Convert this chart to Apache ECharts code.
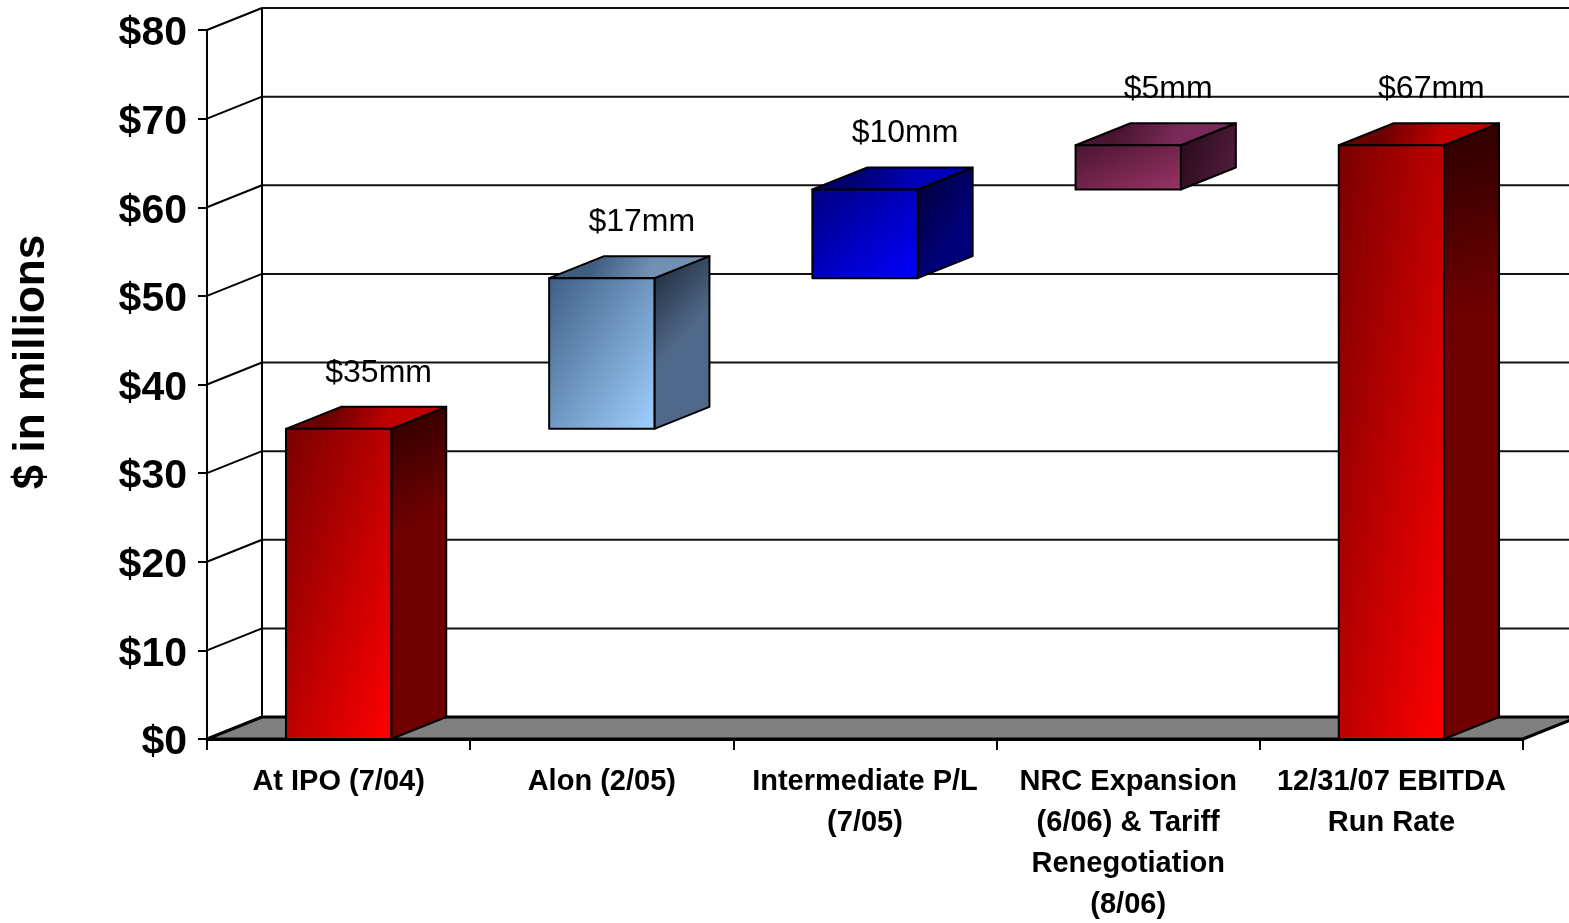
<!DOCTYPE html>
<html>
<head>
<meta charset="utf-8">
<script src="https://cdn.jsdelivr.net/npm/echarts@6/dist/echarts.min.js"></script>
<style>
  html, body { margin: 0; padding: 0; background: #fff; }
  #main { width: 1569px; height: 923px; }
</style>
</head>
<body>
<div id="main"></div>
<script>
// ---- data ----
const categories = [
  'At IPO (7/04)',
  'Alon (2/05)',
  'Intermediate P/L\n(7/05)',
  'NRC Expansion\n(6/06) & Tariff\nRenegotiation\n(8/06)',
  '12/31/07 EBITDA\nRun Rate'
];
const amounts = [35, 17, 10, 5, 67];
const isTotal = [true, false, false, false, true];
const valueLabels = ['$35mm', '$17mm', '$10mm', '$5mm', '$67mm'];
const yTicks = [0, 10, 20, 30, 40, 50, 60, 70, 80];

// ---- style constants ----
const DX = 55, DY = -22;
const FONT = '"Liberation Sans", Arial, Helvetica, sans-serif';
const palettes = [
  { front: ['#780000', '#ff0000'], side: ['#2a0000', '#700000'], top: ['#6a0000', '#c00000'] },
  { front: ['#3f5f85', '#a0d0ff'], side: ['#1a2433', '#50698a'], top: ['#3f5d80', '#7290b3'] },
  { front: ['#000080', '#0000ff'], side: ['#000030', '#000078'], top: ['#000070', '#0000b8'] },
  { front: ['#4a1530', '#9a3366'], side: ['#250818', '#4d1a38'], top: ['#4a1530', '#7a2a58'] },
  { front: ['#780000', '#ff0000'], side: ['#2a0000', '#700000'], top: ['#6a0000', '#c00000'] }
];

// build waterfall segments
const barData = [];
let running = 0;
for (let i = 0; i < amounts.length; i++) {
  let base, top;
  if (isTotal[i]) { base = 0; top = amounts[i]; running = amounts[i]; }
  else { base = running; top = running + amounts[i]; running = top; }
  barData.push([i, base, top]);
}

function grad(c, x1, y1, x2, y2) {
  return new echarts.graphic.LinearGradient(x1, y1, x2, y2, [
    { offset: 0, color: c[0] }, { offset: 1, color: c[1] }
  ]);
}
// gradient in box space (corner-to-corner, iso lines through the other two corners)
function boxGrad(c, x, y, w, h) {
  const k = 2 * w * h / (w * w + h * h);
  return new echarts.graphic.LinearGradient(x, y, x + h * k, y + w * k, [
    { offset: 0, color: c[0] }, { offset: 1, color: c[1] }
  ], true);
}

const chart = echarts.init(document.getElementById('main'), null, { renderer: 'canvas' });

const option = {
  animation: false,
  grid: { left: 207, right: 46, top: 30, bottom: 184, containLabel: false, outerBoundsMode: 'none' },
  graphic: [{
    type: 'text',
    x: 32, y: 362,
    rotation: Math.PI / 2,
    style: {
      text: '$ in millions',
      font: 'bold 44px ' + FONT,
      fill: '#000',
      align: 'center',
      verticalAlign: 'middle'
    }
  }],
  xAxis: {
    type: 'category',
    data: categories,
    boundaryGap: true,
    axisLine: { show: true, lineStyle: { color: '#000', width: 3 } },
    axisTick: { show: true, length: 11, lineStyle: { color: '#000', width: 2 } },
    axisLabel: {
      interval: 0,
      color: '#000',
      fontFamily: FONT,
      fontWeight: 'bold',
      fontSize: 29,
      lineHeight: 41,
      margin: 22
    },
    splitLine: { show: false }
  },
  yAxis: {
    type: 'value',
    min: 0, max: 80, interval: 10,
    axisLine: { show: true, lineStyle: { color: '#000', width: 2 } },
    axisTick: { show: true, length: 9, lineStyle: { color: '#000', width: 2 } },
    axisLabel: {
      formatter: v => '{v|$' + v + '}',
      color: '#000',
      margin: 20,
      rich: {
        v: {
          fontFamily: FONT,
          fontWeight: 'bold',
          fontSize: 41,
          color: '#000',
          padding: [8, 0, 0, 0]
        }
      }
    },
    splitLine: { show: false }
  },
  series: [
    {
      type: 'custom',
      silent: true,
      clip: false,
      z: 1,
      data: [[0, 0]],
      renderItem: function (params, api) {
        const cs = params.coordSys;
        const x0 = cs.x, x1 = cs.x + cs.width;
        const y0 = api.coord([0, 0])[1];
        const children = [];
        yTicks.forEach(function (v) {
          const y = api.coord([0, v])[1];
          children.push({
            type: 'line',
            shape: { x1: x0 + DX, y1: y + DY, x2: x1 + DX, y2: y + DY },
            style: { stroke: '#111', lineWidth: 2 }
          });
          children.push({
            type: 'line',
            shape: { x1: x0, y1: y, x2: x0 + DX, y2: y + DY },
            style: { stroke: '#000', lineWidth: 2 }
          });
        });
        const yTop = api.coord([0, yTicks[yTicks.length - 1]])[1];
        children.push({
          type: 'line',
          shape: { x1: x0 + DX, y1: yTop + DY, x2: x0 + DX, y2: y0 + DY },
          style: { stroke: '#000', lineWidth: 2 }
        });
        children.push({
          type: 'polygon',
          shape: { points: [[x0, y0], [x1, y0], [x1 + DX, y0 + DY], [x0 + DX, y0 + DY]] },
          style: { fill: '#808080', stroke: '#000', lineWidth: 3, lineJoin: 'round' }
        });
        return { type: 'group', children: children };
      }
    },
    {
      type: 'custom',
      silent: true,
      clip: false,
      z: 5,
      data: barData,
      encode: { x: 0, y: [1, 2] },
      renderItem: function (params, api) {
        const i = api.value(0);
        const b = api.value(1), t = api.value(2);
        const pb = api.coord([i, b]);
        const pt = api.coord([i, t]);
        const w = api.size([1, 0])[0] * 0.4;
        const xl = pb[0] - w / 2, xr = pb[0] + w / 2;
        const yb = pb[1], yt = pt[1];
        const h = yb - yt;
        const pal = palettes[params.dataIndex];
        const edge = { stroke: '#000', lineWidth: 2, lineJoin: 'round' };
        return {
          type: 'group',
          children: [
            {
              type: 'polygon',
              shape: { points: [[xr, yt], [xr + DX, yt + DY], [xr + DX, yb + DY], [xr, yb]] },
              style: Object.assign({ fill: grad(pal.side, 0, 0, 1, 0.3) }, edge)
            },
            {
              type: 'polygon',
              shape: { points: [[xl, yt], [xr, yt], [xr + DX, yt + DY], [xl + DX, yt + DY]] },
              style: Object.assign({ fill: grad(pal.top, 0.3, 0, 0.6, 1) }, edge)
            },
            {
              type: 'rect',
              shape: { x: xl, y: yt, width: w, height: h },
              style: Object.assign({ fill: boxGrad(pal.front, xl, yt, w, h) }, edge)
            },
            {
              type: 'text',
              style: {
                text: valueLabels[params.dataIndex],
                x: pb[0] + 40,
                y: yt - 56,
                align: 'center',
                verticalAlign: 'middle',
                fill: '#000',
                font: '32px "Liberation Sans Narrow", "Arial Narrow", ' + FONT
              }
            }
          ]
        };
      }
    }
  ]
};

chart.setOption(option);
</script>
</body>
</html>
